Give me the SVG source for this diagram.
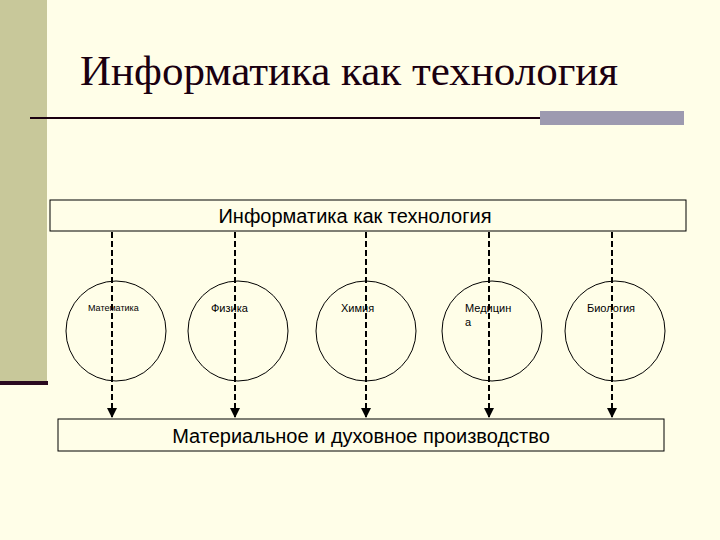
<svg xmlns="http://www.w3.org/2000/svg" width="720" height="540" viewBox="0 0 720 540">
<defs>
<style>
.box{fill:#fffee8;stroke:#000;stroke-width:1}
.c{fill:none;stroke:#000;stroke-width:1}
.t{font-family:"Liberation Sans",Arial,sans-serif;fill:#000}
.ln{stroke:#000;stroke-width:2;stroke-dasharray:6,3;fill:none}
</style>
<marker id="ah" viewBox="0 0 10 10" refX="9" refY="5" markerWidth="5" markerHeight="5" orient="auto"><path d="M0,0L10,5L0,10z" fill="#000"/></marker>
</defs>
<rect width="720" height="540" fill="#fffee8"/>
<rect x="0" y="0" width="47" height="382" fill="#c8c89a"/>
<rect x="0" y="381" width="48" height="4" fill="#2a0a20"/>
<rect x="30" y="117" width="512" height="2" fill="#1a0010"/>
<rect x="540" y="111" width="144" height="14" fill="#9d9ab0"/>
<text x="80" y="85" style="font-family:'Liberation Serif',serif" font-size="43" fill="#1a0010">Информатика как технология</text>
<g id="top"><rect class="box" x="50" y="200" width="636" height="31"/><text class="t" x="355" y="223" font-size="20" text-anchor="middle">Информатика как технология</text></g>
<g id="bottom"><rect class="box" x="58" y="419" width="606" height="32"/><text class="t" x="361" y="443" font-size="20" text-anchor="middle">Материальное и духовное производство</text></g>
<g id="math"><circle class="c" cx="116" cy="331" r="50"/><text class="t" x="88" y="311" font-size="9">Математика</text></g>
<g id="phys"><circle class="c" cx="238" cy="331" r="50"/><text class="t" x="211" y="312" font-size="11">Физика</text></g>
<g id="chem"><circle class="c" cx="366" cy="331" r="50"/><text class="t" x="341" y="312" font-size="11">Химия</text></g>
<g id="med"><circle class="c" cx="492" cy="331" r="50"/><text class="t" x="465" y="312" font-size="11">Медицин</text><text class="t" x="465" y="326" font-size="11">а</text></g>
<g id="bio"><circle class="c" cx="615" cy="331" r="50"/><text class="t" x="587" y="312" font-size="11">Биология</text></g>
<g id="connectors">
<line class="ln" x1="112" y1="232" x2="112" y2="417" marker-end="url(#ah)"/>
<line class="ln" x1="235" y1="232" x2="235" y2="417" marker-end="url(#ah)"/>
<line class="ln" x1="366" y1="232" x2="366" y2="417" marker-end="url(#ah)"/>
<line class="ln" x1="489" y1="232" x2="489" y2="417" marker-end="url(#ah)"/>
<line class="ln" x1="612" y1="232" x2="612" y2="417" marker-end="url(#ah)"/>
</g>
</svg>
